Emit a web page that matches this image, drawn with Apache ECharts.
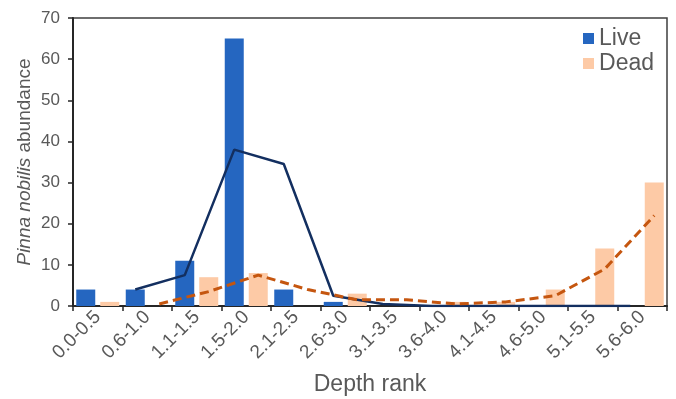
<!DOCTYPE html>
<html>
<head>
<meta charset="utf-8">
<script src="https://cdn.jsdelivr.net/npm/echarts@6/dist/echarts.min.js"></script>
<style>
  html, body { margin: 0; padding: 0; background: #ffffff; }
  #chart { width: 676px; height: 399px; }
</style>
</head>
<body>
<div id="chart"></div>
<script>
// Depth classes
const depthRanks = ['0.0-0.5', '0.6-1.0', '1.1-1.5', '1.5-2.0', '2.1-2.5', '2.6-3.0',
                    '3.1-3.5', '3.6-4.0', '4.1-4.5', '4.6-5.0', '5.1-5.5', '5.6-6.0'];
// Abundance per depth class
const liveCounts = [4, 4, 11, 65, 4, 1, 0, 0, 0, 0, 0, 0];
const deadCounts = [1, 0, 7, 8, 0, 3, 0, 1, 1, 4, 14, 30];
// Two-period moving-average trend lines
const liveTrend = [null, 4, 7.5, 38, 34.5, 2.5, 0.5, 0, 0, 0, 0, 0];
const deadTrend = [null, 0.5, 3.5, 7.5, 4, 1.5, 1.5, 0.5, 1, 2.5, 9, 22];
// Y axis ticks
const yTicks = [0, 10, 20, 30, 40, 50, 60, 70];

const FONT = '"Liberation Sans", Arial, sans-serif';
const GREY = '#595959';
const BAR_W = 19;
const BAR_GAP_PX = 5;
const GRID = { left: 73, right: 9, top: 18, bottom: 93 };
const catWidth = (676 - GRID.left - GRID.right) / depthRanks.length;
// trend lines sit on the centre of their own bar within each group
const shift = (BAR_W + BAR_GAP_PX) / 2 / catWidth;

const chart = echarts.init(document.getElementById('chart'), null, { renderer: 'canvas' });

chart.setOption({
  animation: false,
  textStyle: { fontFamily: FONT },
  grid: Object.assign({
    show: true, borderColor: '#3f3f3f', borderWidth: 1.5, backgroundColor: 'transparent',
    containLabel: false, outerBoundsMode: 'none'
  }, GRID),
  legend: {
    data: ['Live', 'Dead'],
    orient: 'vertical',
    right: 17,
    top: 22,
    itemWidth: 11,
    itemHeight: 11,
    itemGap: 2,
    textStyle: { fontSize: 23, color: GREY, fontFamily: FONT, padding: [0, 0, 0, 0] },
    icon: 'rect'
  },
  xAxis: [
    {
      type: 'category',
      data: depthRanks,
      boundaryGap: true,
      axisLine: { lineStyle: { color: '#262626', width: 2 } },
      axisTick: { show: true, length: 5, lineStyle: { color: '#262626', width: 1.5 } },
      axisLabel: { rotate: 45, fontSize: 19, color: GREY, margin: 8, interval: 0 },
      name: 'Depth rank',
      nameLocation: 'middle',
      nameGap: 67,
      nameMoveOverlap: false,
      nameTextStyle: { fontSize: 23, color: GREY }
    },
    {
      type: 'value',
      min: -0.5,
      max: depthRanks.length - 0.5,
      show: false
    }
  ],
  yAxis: {
    type: 'value',
    min: yTicks[0],
    max: yTicks[yTicks.length - 1],
    interval: 10,
    splitLine: { show: false },
    axisLine: { show: true, onZero: false, lineStyle: { color: '#262626', width: 2 } },
    axisTick: { show: true, length: 5, lineStyle: { color: '#262626', width: 1.5 } },
    axisLabel: { fontSize: 17, color: GREY, margin: 13 },
    name: '{i|Pinna nobilis} abundance',
    nameLocation: 'middle',
    nameGap: 39,
    nameMoveOverlap: false,
    nameTextStyle: {
      fontSize: 19, color: GREY,
      rich: { i: { fontStyle: 'italic', fontSize: 19, color: GREY } }
    }
  },
  series: [
    {
      name: 'Live',
      type: 'bar',
      data: liveCounts,
      barWidth: BAR_W,
      barGap: (BAR_GAP_PX / BAR_W * 100) + '%',
      itemStyle: { color: '#2566c0' }
    },
    {
      name: 'Dead',
      type: 'bar',
      data: deadCounts,
      barWidth: BAR_W,
      itemStyle: { color: '#fdcaa6' }
    },
    {
      name: 'Live trend',
      type: 'line',
      xAxisIndex: 1,
      data: liveTrend.map((v, i) => v === null ? null : [i - shift, v]).filter(Boolean),
      symbol: 'none',
      lineStyle: { color: '#132f60', width: 2.5 },
      z: 5
    },
    {
      name: 'Dead trend',
      type: 'line',
      xAxisIndex: 1,
      data: deadTrend.map((v, i) => v === null ? null : [i + shift, v]).filter(Boolean),
      symbol: 'none',
      lineStyle: { color: '#c5560f', width: 3, type: [9, 5] },
      z: 6
    }
  ]
});
</script>
</body>
</html>
